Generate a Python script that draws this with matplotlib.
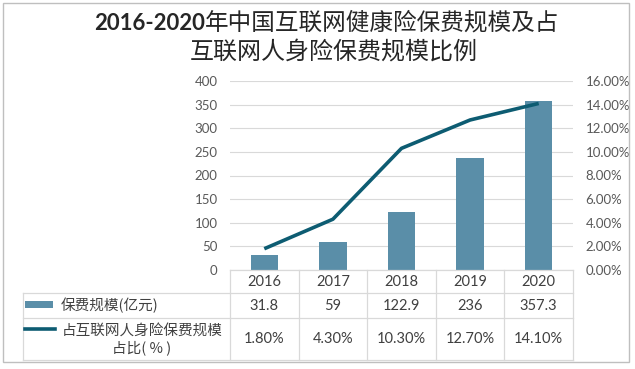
import matplotlib
matplotlib.use("Agg")
import matplotlib.pyplot as plt
from matplotlib.lines import Line2D
from matplotlib.patches import Rectangle
import matplotlib.transforms as mtransforms
from matplotlib.ticker import FuncFormatter, MultipleLocator

plt.rcParams['font.family'] = ['Lato', 'Noto Sans CJK SC', 'DejaVu Sans']

years = ['2016', '2017', '2018', '2019', '2020']
premium = [31.8, 59, 122.9, 236, 357.3]           # 保费规模(亿元)
share = [1.8, 4.3, 10.3, 12.7, 14.1]              # 占比(%)
premium_labels = ['31.8', '59', '122.9', '236', '357.3']
share_labels = ['1.80%', '4.30%', '10.30%', '12.70%', '14.10%']
title_num = '2016-2020'
title_l1 = '年中国互联网健康险保费规模及占'
title_l2 = '互联网人身险保费规模比例'
legend_bar = '保费规模(亿元)'
legend_line = '占互联网人身险保费规模\n占比( % )'

W, H = 635, 369
fig = plt.figure(figsize=(W / 100, H / 100), dpi=100)

def fx(px):
    return px / W

def fy(py):
    return 1 - py / H

BAR_C = '#5A8EA8'
LINE_C = '#0D5C72'
GRID_C = '#D9D9D9'
TICK_C = '#595959'
TXT_C = '#404040'
CJK = ['Noto Sans CJK SC', 'DejaVu Sans']

ax_l, ax_r, ax_t, ax_b = 230, 573, 81, 270
ax = fig.add_axes([fx(ax_l), fy(ax_b), fx(ax_r - ax_l), (ax_b - ax_t) / H])
x = list(range(len(years)))
ax.bar(x, premium, width=0.4, color=BAR_C, zorder=2)
ax.set_xlim(-0.5, len(years) - 0.5)
ax.set_ylim(0, 400)
ax.yaxis.set_major_locator(MultipleLocator(50))
ax.grid(axis='y', color=GRID_C, linewidth=0.8, zorder=0)
ax.set_xticks([])
for s in ax.spines.values():
    s.set_visible(False)
ax.tick_params(axis='y', length=0, pad=9, labelsize=9.5, labelcolor=TICK_C)

ax2 = ax.twinx()
ax2.plot(x, share, color=LINE_C, linewidth=2.6, solid_capstyle='butt', zorder=3)
ax2.set_ylim(0, 16)
ax2.yaxis.set_major_locator(MultipleLocator(2))
ax2.yaxis.set_major_formatter(FuncFormatter(lambda v, p: f'{v:.2f}%'))
for s in ax2.spines.values():
    s.set_visible(False)
ax2.tick_params(axis='y', length=0, pad=9, labelsize=9.5, labelcolor=TICK_C)

# Title (bold Latin digits + regular CJK)
split_x = 205
fig.text(fx(split_x), fy(23), title_num, ha='right', va='center', fontsize=16,
         fontweight='bold', color='#262626', family=['Lato', 'DejaVu Sans'])
fig.text(fx(split_x), fy(23), title_l1, ha='left', va='center', fontsize=17,
         color='#262626', family=CJK)
fig.text(fx(334), fy(52), title_l2, ha='center', va='center', fontsize=17.3,
         color='#262626', family=CJK)

# Data table
blend = mtransforms.blended_transform_factory(ax.transData, fig.transFigure)
n = len(years)
rows_y = [270, 293, 318, 360]
fig.add_artist(Line2D([-0.5, n - 0.5], [fy(270), fy(270)], transform=blend,
                      color=GRID_C, linewidth=0.9))
for yy in rows_y[1:]:
    fig.add_artist(Line2D([fx(23), fx(573)], [fy(yy), fy(yy)],
                          transform=fig.transFigure, color=GRID_C, linewidth=0.9))
for i in range(n + 1):
    fig.add_artist(Line2D([i - 0.5, i - 0.5], [fy(270), fy(360)], transform=blend,
                          color=GRID_C, linewidth=0.9))
fig.add_artist(Line2D([fx(23), fx(23)], [fy(293), fy(360)],
                      transform=fig.transFigure, color=GRID_C, linewidth=0.9))

cell_fs = 10.5
for i in range(n):
    fig.text(i, fy(282), years[i], transform=blend, ha='center', va='center',
             fontsize=cell_fs, color=TXT_C)
    fig.text(i, fy(305.5), premium_labels[i], transform=blend, ha='center',
             va='center', fontsize=cell_fs, color=TXT_C)
    fig.text(i, fy(339), share_labels[i], transform=blend, ha='center',
             va='center', fontsize=cell_fs, color=TXT_C)

# legend keys
fig.add_artist(Rectangle((fx(25), fy(308)), fx(28), 7 / H, transform=fig.transFigure,
                         color=BAR_C, linewidth=0))
fig.text(fx(61), fy(305.5), legend_bar, ha='left', va='center', fontsize=cell_fs,
         color=TXT_C, family=CJK)
fig.add_artist(Line2D([fx(25), fx(55)], [fy(329), fy(329)], transform=fig.transFigure,
                      color=LINE_C, linewidth=2.6))
fig.text(fx(142), fy(340), legend_line, ha='center', va='center', fontsize=cell_fs,
         color=TXT_C, linespacing=1.15, family=CJK)

# outer border
fig.add_artist(Rectangle((fx(3), fy(362)), fx(626), (362 - 3) / H,
                         transform=fig.transFigure, fill=False,
                         edgecolor='#BFBFBF', linewidth=1.0))

fig.savefig('out.png', dpi=100)
